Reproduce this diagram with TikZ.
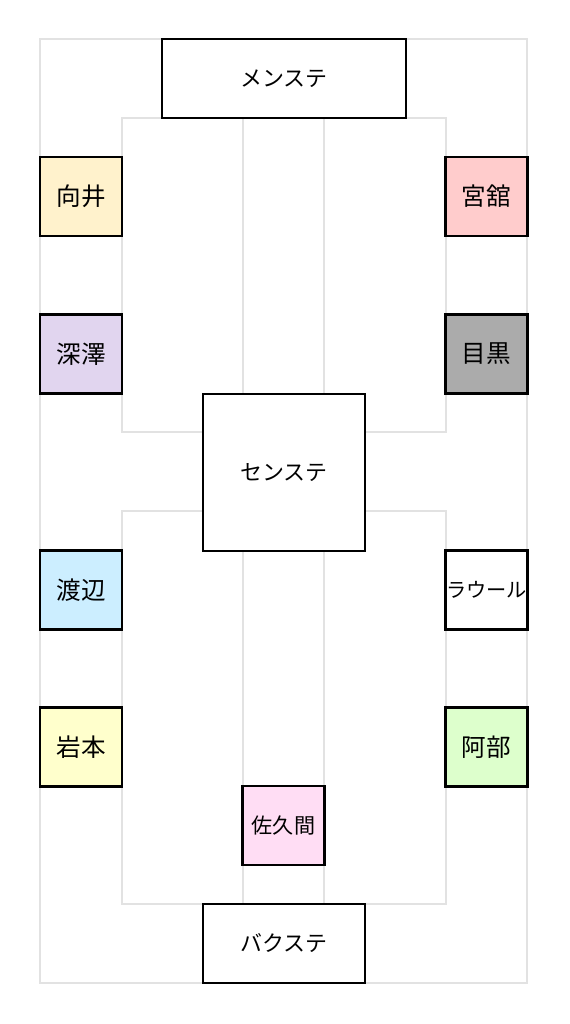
\documentclass[tikz,border=0pt]{standalone}
\usepackage{fontspec}
\setmainfont{Noto Sans CJK JP}
\usepackage{xcolor}
\usetikzlibrary{positioning}

\definecolor{mukai}{HTML}{FFF2CC}
\definecolor{date}{HTML}{FFCCCC}
\definecolor{fukazawa}{HTML}{E1D5EF}
\definecolor{meguro}{HTML}{ABABAB}
\definecolor{watanabe}{HTML}{CCEEFF}
\definecolor{iwamoto}{HTML}{FFFFCC}
\definecolor{abe}{HTML}{DDFFCC}
\definecolor{sakuma}{HTML}{FFDDF4}
\definecolor{track}{HTML}{E2E2E2}

\begin{document}
\begin{tikzpicture}[x=0.02cm, y=-0.02cm]
	\tikzstyle{every node}=[draw=black, line width=1.2pt, inner sep=0pt, outer sep=0pt]
	\tikzstyle{member}=[minimum width=1.64cm, minimum height=1.58cm, font=\fontsize{14pt}{16pt}\selectfont]
	\tikzstyle{stage}=[fill=white, minimum height=1.58cm, font=\fontsize{12.5pt}{14pt}\selectfont]
	\tikzset{rail/.style={draw=track, line width=1.1pt}}
	\useasboundingbox (0,0) rectangle (570,1024);

	% tracks
	\draw[rail] (40,39) rectangle (527,983);
	\draw[rail] (122,118) rectangle (446,432);
	\draw[rail] (122,511) rectangle (446,904);
	\draw[rail] (243,118) -- (243,394);
	\draw[rail] (324,118) -- (324,394);
	\draw[rail] (243,551) -- (243,904);
	\draw[rail] (324,551) -- (324,904);

	% stages
	\node[stage, minimum width=4.88cm]  (M) at (284,78.5)  {メンステ};
	\node[stage, minimum width=3.24cm, minimum height=3.14cm] (C) at (284,472.5) {センステ};
	\node[stage, minimum width=3.24cm]  (B) at (284,943.5) {バクステ};

	% members
	\node[member, fill=mukai]    (K)  at (81,196.5)  {向井};
	\node[member, fill=fukazawa] (F)  at (81,354)    {深澤};
	\node[member, fill=watanabe] (W)  at (81,590)    {渡辺};
	\node[member, fill=iwamoto]  (I)  at (81,747)    {岩本};
	\node[member, fill=date]     (D)  at (486.5,196.5) {宮舘};
	\node[member, fill=meguro]   (G)  at (486.5,354)   {目黒};
	\node[member, fill=white, font=\fontsize{11.5pt}{13pt}\selectfont] (R) at (486.5,590) {ラウール};
	\node[member, fill=abe]      (A)  at (486.5,747)   {阿部};
	\node[member, fill=sakuma, font=\fontsize{12pt}{14pt}\selectfont] (S) at (283.5,825.5) {佐久間};
\end{tikzpicture}
\end{document}
